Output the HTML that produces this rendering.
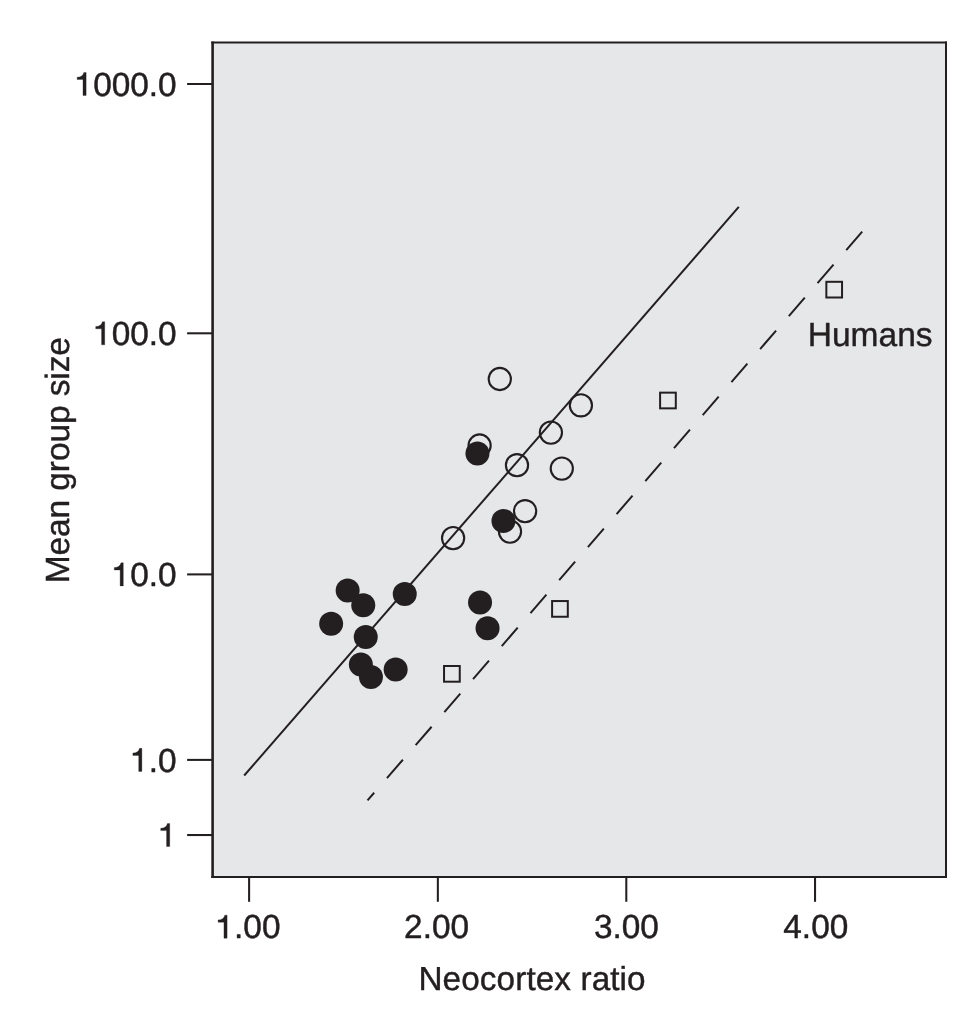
<!DOCTYPE html>
<html>
<head>
<meta charset="utf-8">
<title>Neocortex ratio vs mean group size</title>
<style>
html,body{margin:0;padding:0;background:#ffffff;}
body{width:972px;height:1020px;overflow:hidden;}
svg{display:block;will-change:transform;}
text{font-family:"Liberation Sans",sans-serif;fill:#231f20;stroke:#231f20;stroke-width:0.42px;stroke-linejoin:round;text-rendering:geometricPrecision;}
.h{fill:none;stroke:none;}
</style>
</head>
<body>
<svg width="972" height="1020" viewBox="0 0 972 1020">
  <rect x="0" y="0" width="972" height="1020" fill="#ffffff"/>
  <!-- plot area -->
  <rect x="212.6" y="42.4" width="733.4" height="834.5" fill="#e6e7e8" stroke="none"/>
  <g stroke="#231f20" fill="none" stroke-linecap="butt">
    <line x1="212.6" y1="41.4" x2="212.6" y2="877.9" stroke-width="2.6"/>
    <line x1="211.3" y1="42.4" x2="947" y2="42.4" stroke-width="2"/>
    <line x1="946" y1="41.4" x2="946" y2="877.9" stroke-width="2"/>
    <line x1="211.3" y1="876.9" x2="947" y2="876.9" stroke-width="2"/>
  </g>
  <!-- y ticks -->
  <g stroke="#231f20" stroke-width="2.05" fill="none">
    <line x1="187.1" y1="84" x2="212" y2="84"/>
    <line x1="187.1" y1="333.3" x2="212" y2="333.3"/>
    <line x1="187.1" y1="574.4" x2="212" y2="574.4"/>
    <line x1="187.1" y1="759.9" x2="212" y2="759.9"/>
    <line x1="187.1" y1="835.05" x2="212" y2="835.05"/>
    <!-- x ticks -->
    <line x1="249.1" y1="877" x2="249.1" y2="901.8"/>
    <line x1="437.85" y1="877" x2="437.85" y2="901.8"/>
    <line x1="626.3" y1="877" x2="626.3" y2="901.8"/>
    <line x1="815.05" y1="877" x2="815.05" y2="901.8"/>
  </g>
  <!-- regression lines -->
  <line x1="244.2" y1="775.5" x2="738.8" y2="206.9" stroke="#231f20" stroke-width="2"/>
  <line x1="862.2" y1="231.7" x2="367.5" y2="800.4" stroke="#231f20" stroke-width="2" stroke-dasharray="24.3 19.44"/>
  <!-- open circles -->
  <g fill="none" stroke="#231f20" stroke-width="2.1">
    <circle cx="499.8" cy="379" r="11.1"/>
    <circle cx="580.9" cy="405.3" r="11.1"/>
    <circle cx="550.9" cy="432.6" r="11.1"/>
    <circle cx="479.6" cy="445.5" r="11.1"/>
    <circle cx="517" cy="465.2" r="11.1"/>
    <circle cx="561.8" cy="468.6" r="11.1"/>
    <circle cx="525.1" cy="511.2" r="11.1"/>
    <circle cx="510" cy="531.6" r="11.1"/>
    <circle cx="453.1" cy="538.1" r="11.1"/>
  </g>
  <!-- filled circles -->
  <g fill="#231f20" stroke="none">
    <circle cx="477.45" cy="453.6" r="12"/>
    <circle cx="503.45" cy="520.95" r="12"/>
    <circle cx="347.65" cy="590.45" r="12"/>
    <circle cx="363.25" cy="605.15" r="12"/>
    <circle cx="331.15" cy="623.75" r="12"/>
    <circle cx="365.75" cy="637.05" r="12"/>
    <circle cx="404.75" cy="594.05" r="12"/>
    <circle cx="360.85" cy="664.45" r="12"/>
    <circle cx="370.95" cy="676.95" r="12"/>
    <circle cx="395.65" cy="669.45" r="12"/>
    <circle cx="480.05" cy="602.45" r="12"/>
    <circle cx="487.55" cy="628.25" r="12"/>
  </g>
  <!-- squares -->
  <g fill="none" stroke="#231f20" stroke-width="2">
    <rect x="444.05" y="666" width="15.7" height="15.7"/>
    <rect x="552.1" y="601.05" width="15.7" height="15.7"/>
    <rect x="660.1" y="392.65" width="15.7" height="15.7"/>
    <rect x="826.35" y="281.8" width="15.7" height="15.7"/>
  </g>
  <!-- y labels -->
  <g font-size="33.4" text-anchor="end">
    <text x="176.7" y="95.6"><tspan class="h">1</tspan>000.0</text>
    <text x="176.7" y="344.9"><tspan class="h">1</tspan>00.0</text>
    <text x="176.7" y="586"><tspan class="h">1</tspan>0.0</text>
    <text x="176.7" y="771.5"><tspan class="h">1</tspan>.0</text>
    <text x="176.7" y="846.65"><tspan class="h">1</tspan></text>
  </g>
  <!-- x labels -->
  <g font-size="33.4" text-anchor="middle">
    <text x="248" y="938.3"><tspan class="h">1</tspan>.00</text>
    <text x="436.6" y="938.3">2.00</text>
    <text x="626.4" y="938.3">3.00</text>
    <text x="815.8" y="938.3">4.00</text>
  </g>
  <!-- custom "1" glyphs -->
  <path transform="translate(74.54,95.6)" d="M11.6,-0.1 L11.6,-23.15 L9.3,-23.15 C8.7,-20.2 6.3,-18.4 2.6,-18.4 L2.6,-16.05 L8.45,-16.05 L8.45,-0.1 Z" fill="#231f20" stroke="#231f20" stroke-width="0.3" stroke-linejoin="round"/>
  <path transform="translate(93.12,344.9)" d="M11.6,-0.1 L11.6,-23.15 L9.3,-23.15 C8.7,-20.2 6.3,-18.4 2.6,-18.4 L2.6,-16.05 L8.45,-16.05 L8.45,-0.1 Z" fill="#231f20" stroke="#231f20" stroke-width="0.3" stroke-linejoin="round"/>
  <path transform="translate(111.69,586)" d="M11.6,-0.1 L11.6,-23.15 L9.3,-23.15 C8.7,-20.2 6.3,-18.4 2.6,-18.4 L2.6,-16.05 L8.45,-16.05 L8.45,-0.1 Z" fill="#231f20" stroke="#231f20" stroke-width="0.3" stroke-linejoin="round"/>
  <path transform="translate(130.27,771.5)" d="M11.6,-0.1 L11.6,-23.15 L9.3,-23.15 C8.7,-20.2 6.3,-18.4 2.6,-18.4 L2.6,-16.05 L8.45,-16.05 L8.45,-0.1 Z" fill="#231f20" stroke="#231f20" stroke-width="0.3" stroke-linejoin="round"/>
  <path transform="translate(158.12,846.65)" d="M11.6,-0.1 L11.6,-23.15 L9.3,-23.15 C8.7,-20.2 6.3,-18.4 2.6,-18.4 L2.6,-16.05 L8.45,-16.05 L8.45,-0.1 Z" fill="#231f20" stroke="#231f20" stroke-width="0.3" stroke-linejoin="round"/>
  <path transform="translate(215.5,938.3)" d="M11.6,-0.1 L11.6,-23.15 L9.3,-23.15 C8.7,-20.2 6.3,-18.4 2.6,-18.4 L2.6,-16.05 L8.45,-16.05 L8.45,-0.1 Z" fill="#231f20" stroke="#231f20" stroke-width="0.3" stroke-linejoin="round"/>
  <text x="532.1" y="989.6" font-size="33.3" letter-spacing="0.1" text-anchor="middle">Neocortex ratio</text>
  <text x="807.8" y="346.4" font-size="33.5">Humans</text>
  <text transform="translate(69.4,460.2) rotate(-90)" font-size="33.5" letter-spacing="-0.1" text-anchor="middle">Mean group size</text>
</svg>
</body>
</html>
